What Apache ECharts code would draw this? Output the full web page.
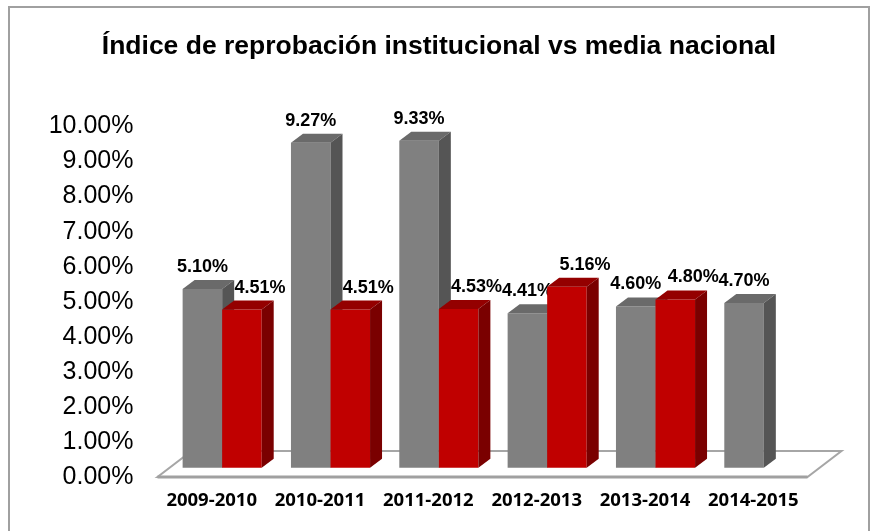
<!DOCTYPE html>
<html>
<head>
<meta charset="utf-8">
<style>
  html, body { margin: 0; padding: 0; background: #fff; }
  #chart { width: 878px; height: 531px; }
</style>
<script src="https://cdn.jsdelivr.net/npm/echarts@6/dist/echarts.min.js"></script>
</head>
<body>
<div id="chart"></div>
<script>
var categories = ['2009-2010', '2010-2011', '2011-2012', '2012-2013', '2013-2014', '2014-2015'];
var institucional = [5.10, 9.27, 9.33, 4.41, 4.60, 4.70];
var nacional = [4.51, 4.51, 4.53, 5.16, 4.80, null];
var yTicks = [0, 1, 2, 3, 4, 5, 6, 7, 8, 9, 10];

// fake 3d look, Excel style
var BAR_FRAC = 0.365;
var OFF = [10.5, -9.3];   // bar front sits a bit behind the floor edge
var DEPTH = [12, -9];     // bar depth
var FLOOR = [34, -26];    // floor depth

var faces = [
  { front: '#808080', top: '#6a6a6a', side: '#555555', labelShift: 0 },
  { front: '#c00000', top: '#940000', side: '#7a0000', labelShift: 18 }
];

function pairs(arr) {
  return arr.map(function (v, i) { return [i, v == null ? '-' : v]; });
}

function barRenderer(k) {
  return function (params, api) {
    var val = api.value(1);
    if (isNaN(val)) return;
    var idx = api.value(0);
    var base = api.coord([idx, 0]);
    var top = api.coord([idx, val]);
    var w = api.size([1, 0])[0] * BAR_FRAC;
    var x0 = base[0] + OFF[0] - (k === 0 ? w : 0);
    var yb = base[1] + OFF[1];
    var yt = top[1] + OFF[1];
    var c = faces[k];
    return {
      type: 'group',
      children: [
        { type: 'rect', shape: { x: x0, y: yt, width: w, height: yb - yt }, style: { fill: c.front } },
        { type: 'polygon', shape: { points: [[x0, yt], [x0 + w, yt], [x0 + w + DEPTH[0], yt + DEPTH[1]], [x0 + DEPTH[0], yt + DEPTH[1]]] }, style: { fill: c.top } },
        { type: 'polygon', shape: { points: [[x0 + w, yt], [x0 + w + DEPTH[0], yt + DEPTH[1]], [x0 + w + DEPTH[0], yb + DEPTH[1]], [x0 + w, yb]] }, style: { fill: c.side } },
        { type: 'text', style: {
            x: x0 + w / 2 + c.labelShift, y: yt + DEPTH[1] - 4,
            text: val.toFixed(2) + '%', align: 'center', verticalAlign: 'bottom',
            font: 'bold 18px "Liberation Sans", Arial, sans-serif', fill: '#000'
          } }
      ]
    };
  };
}

function floorRenderer(params, api) {
  var band = api.size([1, 0])[0];
  var a = api.coord([0, 0]);
  var b = api.coord([categories.length - 1, 0]);
  var xl = a[0] - band / 2, xr = b[0] + band / 2, y = a[1];
  return {
    type: 'group',
    children: [
      { type: 'polygon', shape: { points: [[xl, y], [xr, y], [xr + FLOOR[0], y + FLOOR[1]], [xl + FLOOR[0], y + FLOOR[1]]] },
        style: { fill: '#fff', stroke: '#a6a6a6', lineWidth: 2 } },
      { type: 'line', shape: { x1: xl, y1: y, x2: xr, y2: y }, style: { stroke: '#a0a0a0', lineWidth: 3 } }
    ]
  };
}

var chart = echarts.init(document.getElementById('chart'));
chart.setOption({
  animation: false,
  backgroundColor: '#fff',
  title: {
    text: 'Índice de reprobación institucional vs media nacional',
    left: 'center',
    top: 28,
    textStyle: { fontFamily: '"Liberation Sans", Arial, sans-serif', fontWeight: 'bold', fontSize: 26.5, color: '#000' }
  },
  graphic: [
    { type: 'rect', shape: { x: 9, y: 7, width: 860, height: 540 }, style: { fill: null, stroke: '#a0a0a0', lineWidth: 2 }, silent: true }
  ],
  grid: { left: 157.5, right: 70.5, top: 126.5, bottom: 54 },
  xAxis: {
    type: 'category',
    data: categories,
    axisLine: { show: false },
    axisTick: { show: false },
    axisLabel: {
      interval: 0,
      margin: 14,
      color: '#000',
      fontFamily: '"Open Sans", sans-serif',
      fontWeight: 'bold',
      fontSize: 18.5
    }
  },
  yAxis: {
    type: 'value',
    min: yTicks[0],
    max: yTicks[yTicks.length - 1],
    interval: 1,
    axisLine: { show: false },
    axisTick: { show: false },
    splitLine: { show: false },
    axisLabel: {
      margin: 24,
      color: '#000',
      fontFamily: '"Liberation Sans", Arial, sans-serif',
      fontSize: 25,
      formatter: function (v) { return v.toFixed(2) + '%'; }
    }
  },
  series: [
    { type: 'custom', name: 'piso', renderItem: floorRenderer, data: [[0, 0]], z: 1, silent: true },
    { type: 'custom', name: 'Institucional', renderItem: barRenderer(0), data: pairs(institucional), encode: { x: 0, y: 1 }, z: 2 },
    { type: 'custom', name: 'Media nacional', renderItem: barRenderer(1), data: pairs(nacional), encode: { x: 0, y: 1 }, z: 3 }
  ]
});
</script>
</body>
</html>
